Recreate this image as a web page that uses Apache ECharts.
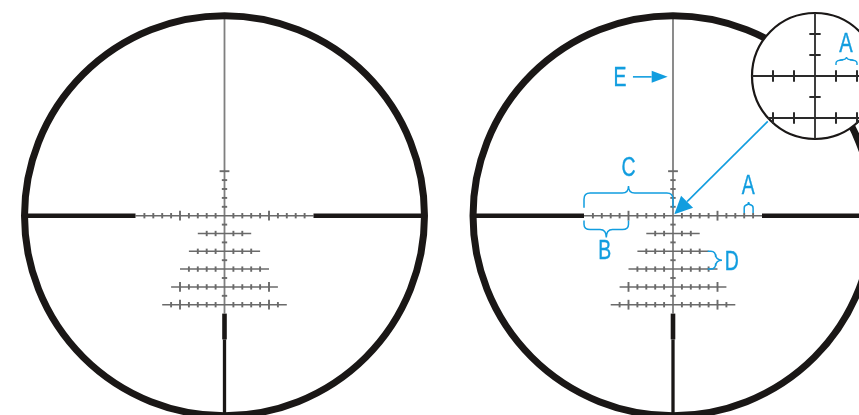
<!DOCTYPE html>
<html><head><meta charset="utf-8">
<style>html,body{margin:0;padding:0;background:#fff}#c{width:859px;height:415px}</style>
<script src="https://cdn.jsdelivr.net/npm/echarts@6/dist/echarts.min.js"></script>
</head><body><div id="c"></div>
<script>
// Reticle values, in subtension units from the crosshair centre (y grows downward)
const ringRadius = 22.47;
const crossMinorTicks = [-9,-8,-7,-6,-4,-3,-2,-1,1,2,3,4,6,7,8,9];
const crossMajorTicks = [-5,5];
const thinArmEnd = 10;
const postEnd = 22.3;
const stadiaAbove = [-4,-3,-2,-1];
const stadiaAboveMajor = [-5];
const stadiaBelow = [1,3,5,7,9];
const verticalTop = -22.3;
const verticalThinEnd = 11;
const postShoulder = 13.9;
const rowDepths = [2,4,6,8,10];
const rowHalfWidths = [3,4,5,6,7];
const rowMinor = [[1,2],[1,2,3],[1,2,3,4],[1,2,3,4],[1,2,3,4,6]];
const rowMajor = [[],[],[],[5],[5]];
// Magnified inset values
const insetRadius = 3;
const insetRowDepth = 2;
const insetRowHalf = 2.236;
const insetXTicks = [-2,-1,1,2];
const insetYTicks = [-2,-1,1];
// Annotations on the right-hand reticle
const labels = [['E',-5.95,-15.4],['C',-5,-5.32],['A',8.46,-3.28],['B',-7.67,4.05],['D',6.6,5.3]];
const insetLabels = [['A',1.48,-1.5]];
// [start, end, fixed coordinate, shoulder, tip, vertical?]
const braces = [[-10,0,-0.9,-1.65,-0.8,0],[-10,-5,0.55,1.0,0.9,0],[8,9,-0.3,-0.9,-0.35,0],[4,6,3.9,0.9,0.7,1]];
const insetBraces = [[1,2,-0.52,-0.24,-0.14,0]];
const arrows = [[10.65,-10.6,0.15,-0.15,18,17],[-4.5,-15.6,-0.6,-15.6,16,12]];

const BLUE='#119ddf', DARK='#1a1716', GREY='#6a6a6a';
const CENTERS=[224.5,673], U=8.9, CY=215.7, XR=25, YR=24;

function segs(gridIdx, data, color, width, z){
  return {type:'custom',coordinateSystem:'cartesian2d',xAxisIndex:gridIdx,yAxisIndex:gridIdx,z,silent:true,clip:false,data,
    renderItem:(p,api)=>{const a=api.coord([api.value(0),api.value(1)]),b=api.coord([api.value(2),api.value(3)]);
      return {type:'line',shape:{x1:a[0],y1:a[1],x2:b[0],y2:b[1]},style:{stroke:color,lineWidth:width,fill:null}};}};
}
function ring(gridIdx,r,stroke,lw,fill,z){
  return {type:'custom',coordinateSystem:'cartesian2d',xAxisIndex:gridIdx,yAxisIndex:gridIdx,z,silent:true,clip:false,data:[[0,0,r]],
    renderItem:(p,api)=>{const c=api.coord([0,0]),rr=api.size([api.value(2),0])[0];
      return {type:'circle',shape:{cx:c[0],cy:c[1],r:rr},style:{stroke,lineWidth:lw,fill}};}};
}
function text(gridIdx,data,size,z){
  return {type:'custom',coordinateSystem:'cartesian2d',xAxisIndex:gridIdx,yAxisIndex:gridIdx,z,silent:true,clip:false,
    data:data.map(d=>({value:[d[1],d[2]],name:d[0]})),
    renderItem:(p,api)=>{const c=api.coord([api.value(0),api.value(1)]);
      return {type:'text',x:c[0],y:c[1],scaleX:0.72,style:{text:data[p.dataIndex][0],fill:BLUE,stroke:BLUE,lineWidth:0.4,font:size+'px "Liberation Sans"',align:'center',verticalAlign:'middle'}};}};
}
function brace(gridIdx,data,z,lw){
  return {type:'custom',coordinateSystem:'cartesian2d',xAxisIndex:gridIdx,yAxisIndex:gridIdx,z,silent:true,clip:false,data,
    renderItem:(p,api)=>{
      const s=api.value(0),e=api.value(1),f=api.value(2),sh=api.value(3),tip=api.value(4),v=api.value(5);
      const P=(t,n)=>{const q=api.coord(v?[f+n,s+t]:[s+t,f+n]);return q[0].toFixed(1)+' '+q[1].toFixed(1);};
      const L=e-s,m=L/2,c=Math.min(0.7,L/3),sg=Math.sign(sh);
      const d='M'+P(0,0)+'L'+P(0,sh-sg*Math.min(c,Math.abs(sh)*0.6))+'Q'+P(0,sh)+' '+P(c,sh)+'L'+P(m-c,sh)+'Q'+P(m,sh)+' '+P(m,sh+tip)
        +'Q'+P(m,sh)+' '+P(m+c,sh)+'L'+P(L-c,sh)+'Q'+P(L,sh)+' '+P(L,sh-sg*Math.min(c,Math.abs(sh)*0.6))+'L'+P(L,0);
      return {type:'path',shape:{pathData:d},style:{stroke:BLUE,lineWidth:lw,fill:null}};}};
}
function arrow(gridIdx,data,z){
  return {type:'custom',coordinateSystem:'cartesian2d',xAxisIndex:gridIdx,yAxisIndex:gridIdx,z,silent:true,clip:false,data,
    renderItem:(p,api)=>{
      const a=api.coord([api.value(0),api.value(1)]),b=api.coord([api.value(2),api.value(3)]),hl=api.value(4),hw=api.value(5);
      const dx=b[0]-a[0],dy=b[1]-a[1],n=Math.hypot(dx,dy),ux=dx/n,uy=dy/n;
      const bx=b[0]-ux*hl,by=b[1]-uy*hl;
      return {type:'group',children:[
        {type:'line',shape:{x1:a[0],y1:a[1],x2:bx,y2:by},style:{stroke:BLUE,lineWidth:1.6,fill:null}},
        {type:'polygon',shape:{points:[[b[0],b[1]],[bx-uy*hw/2,by+ux*hw/2],[bx+uy*hw/2,by-ux*hw/2]]},style:{fill:BLUE,stroke:null}}
      ]};}};
}
function reticle(g){
  const minor=[],major=[],thinH=[],thick=[],thinV=[],narrow=[];
  thinH.push([-thinArmEnd,0,thinArmEnd,0]);
  thinV.push([0,verticalTop,0,verticalThinEnd]);
  crossMinorTicks.forEach(x=>minor.push([x,-0.3,x,0.3]));
  crossMajorTicks.forEach(x=>major.push([x,-0.55,x,0.55]));
  stadiaAbove.concat(stadiaBelow).forEach(y=>minor.push([-0.3,y,0.3,y]));
  stadiaAboveMajor.forEach(y=>major.push([-0.55,y,0.55,y]));
  rowDepths.forEach((y,i)=>{
    thinH.push([-rowHalfWidths[i],y,rowHalfWidths[i],y]);
    rowMinor[i].forEach(x=>{minor.push([x,y-0.3,x,y+0.3]);minor.push([-x,y-0.3,-x,y+0.3]);});
    rowMajor[i].forEach(x=>{major.push([x,y-0.55,x,y+0.55]);major.push([-x,y-0.55,-x,y+0.55]);});
  });
  thick.push([-postEnd,0,-thinArmEnd,0],[thinArmEnd,0,postEnd,0],[0,verticalThinEnd,0,postShoulder]);
  narrow.push([0,postShoulder,0,postEnd]);
  return [
    segs(g,thinV,'#7f7f7f',1.8,2),segs(g,thinH,'#6a6a6a',1.5,2),segs(g,minor,GREY,1.9,2),segs(g,major,GREY,1.9,2),
    segs(g,thick,DARK,4.6,3),segs(g,narrow,DARK,3.3,3),ring(g,ringRadius,DARK,7,null,3)
  ];
}
const insetSegs=[[-insetRadius,0,insetRadius,0],[0,-insetRadius,0,insetRadius],[-insetRowHalf,insetRowDepth,insetRowHalf,insetRowDepth]];
const insetTicks=[];
insetXTicks.forEach(x=>{insetTicks.push([x,-0.27,x,0.27]);insetTicks.push([x,insetRowDepth-0.27,x,insetRowDepth+0.27]);});
insetYTicks.forEach(y=>insetTicks.push([-0.27,y,0.27,y]));

const chart=echarts.init(document.getElementById('c'),null,{renderer:'canvas'});
const grids=CENTERS.map(cx=>({left:cx-XR*U,top:CY-YR*U,width:2*XR*U,height:2*YR*U,outerBoundsMode:'none',containLabel:false}));
grids.push({left:752,top:13,width:126,height:126,outerBoundsMode:'none',containLabel:false});
const ax=(g,r,inv)=>({type:'value',gridIndex:g,min:-r,max:r,inverse:inv,show:false,scale:false});
chart.setOption({
  animation:false,backgroundColor:'#fff',
  grid:grids,
  xAxis:[ax(0,XR,false),ax(1,XR,false),ax(2,insetRadius,false)],
  yAxis:[ax(0,YR,true),ax(1,YR,true),ax(2,insetRadius,true)],
  series:[
    ...reticle(0),...reticle(1),
    arrow(1,arrows,4),brace(1,braces,4,1.5),text(1,labels,27,4),
    ring(2,insetRadius,DARK,2.2,'#fff',5),
    segs(2,insetSegs,'#2a2a2a',1.8,6),segs(2,insetTicks,'#2a2a2a',2,6),
    brace(2,insetBraces,7,1.4),text(2,insetLabels,28,7)
  ]
});
</script></body></html>
